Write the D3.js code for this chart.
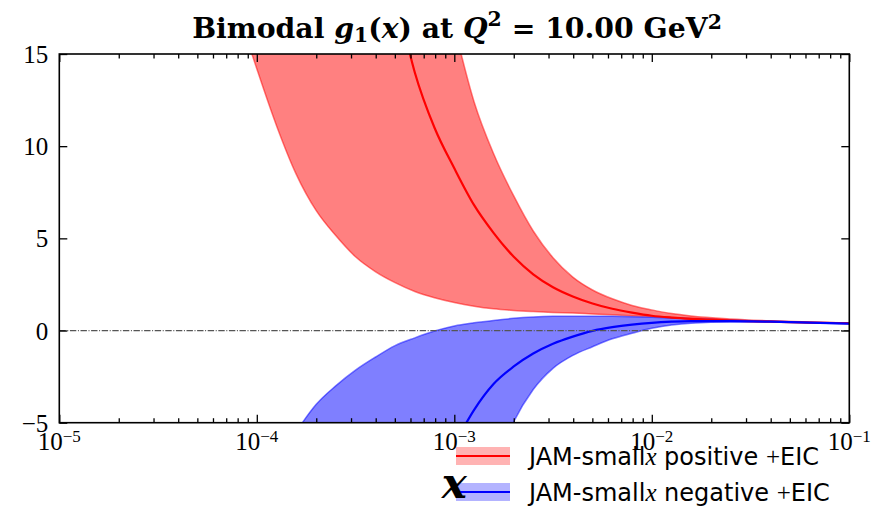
<!DOCTYPE html>
<html><head><meta charset="utf-8">
<script src="https://cdn.jsdelivr.net/npm/d3@7"></script>
<style>body{margin:0;background:#fff}</style>
</head><body>
<svg id="c" width="888" height="507"></svg>
<script>
// ---- data ----
const xGrid = [7.94e-5, 1.00e-4, 1.26e-4, 1.58e-4, 2.00e-4, 2.51e-4, 3.16e-4, 3.98e-4, 5.01e-4, 6.31e-4,
               7.94e-4, 1.00e-3, 1.26e-3, 1.58e-3, 2.00e-3, 2.51e-3, 3.16e-3, 3.98e-3, 5.01e-3, 6.31e-3,
               7.94e-3, 1.00e-2, 1.26e-2, 1.58e-2, 2.51e-2, 3.98e-2, 6.31e-2, 1.00e-1];
const redLo  = [17.5, 14.2, 11.1, 8.5, 6.5, 5.15, 4.0, 3.2, 2.6, 2.12,
                1.78, 1.52, 1.32, 1.18, 1.09, 1.03, 0.98, 0.95, 0.9, 0.85,
                0.8, 0.76, 0.71, 0.66, 0.57, 0.5, 0.44, 0.39];
const redMid = [null, null, null, null, null, null, null, null, 18.5, 14.0,
                11.0, 8.8, 6.8, 5.3, 4.0, 3.05, 2.35, 1.85, 1.47, 1.18,
                0.97, 0.80, 0.70, 0.63, 0.54, 0.48, 0.43, 0.40];
const redHi  = [null, null, null, null, null, null, null, null, null, null,
                null, 16.5, 12.4, 9.6, 7.3, 5.4, 3.95, 2.9, 2.2, 1.72,
                1.36, 1.12, 0.92, 0.79, 0.63, 0.53, 0.46, 0.41];
const blueHi = [null, null, null, -5.5, -4.0, -3.0, -2.15, -1.45, -0.82, -0.4,
                -0.03, 0.25, 0.42, 0.55, 0.66, 0.73, 0.77, 0.78, 0.78, 0.77,
                0.75, 0.72, 0.68, 0.64, 0.56, 0.50, 0.44, 0.39];
const blueMid = [null, null, null, null, null, null, null, null, null, null,
                 null, -6.2, -4.3, -2.9, -1.95, -1.25, -0.72, -0.33, -0.02, 0.18,
                 0.32, 0.42, 0.48, 0.51, 0.51, 0.48, 0.43, 0.37];
const blueLo = [null, null, null, null, null, null, null, null, null, null,
                null, null, null, -7.6, -4.95, -3.2, -2.05, -1.35, -0.88, -0.45,
                -0.15, 0.12, 0.30, 0.40, 0.46, 0.46, 0.42, 0.36];
const yTicks = [-5, 0, 5, 10, 15];
const yTickLabels = ["−5", "0", "5", "10", "15"];
const xMajor = [1e-5, 1e-4, 1e-3, 1e-2, 1e-1];
const xTickExp = ["−5", "−4", "−3", "−2", "−1"];
const legendNames = ["positive", "negative"];

// ---- layout ----
const L = 59.3, R = 849.3, T = 54, B = 422.7;
const svg = d3.select("#c");
const x = d3.scaleLog().domain([1e-5, 1e-1]).range([L, R]);
const y = d3.scaleLinear().domain([-5, 15]).range([B, T]);

svg.append("defs").append("clipPath").attr("id", "clip")
  .append("rect").attr("x", L).attr("y", T).attr("width", R - L).attr("height", B - T);

const pts = vals => xGrid.map((xv, i) => [xv, vals[i]]).filter(d => d[1] != null);
const line = d3.line().x(d => x(d[0])).y(d => y(d[1])).curve(d3.curveMonotoneX);
function bandPath(hi, lo) {
  const top = line(pts(hi));
  const bot = line(pts(lo).reverse());
  return top + "L" + bot.substring(1) + "Z";
}

const g = svg.append("g").attr("clip-path", "url(#clip)");
g.append("path").attr("d", bandPath(redLo, redHi))
  .attr("fill", "rgb(255,128,128)").attr("stroke", "rgba(255,0,0,0.5)").attr("stroke-width", 1.5);
g.append("path").attr("d", bandPath(blueHi, blueLo))
  .attr("fill", "rgba(0,0,255,0.5)").attr("stroke", "rgba(0,0,255,0.5)").attr("stroke-width", 1.5);
g.append("path").attr("d", line(pts(redMid))).attr("fill", "none").attr("stroke", "#ff0000").attr("stroke-width", 2.2);
g.append("path").attr("d", line(pts(blueMid))).attr("fill", "none").attr("stroke", "#0000ff").attr("stroke-width", 2.2);
g.append("line").attr("x1", L).attr("x2", R).attr("y1", y(0)).attr("y2", y(0))
  .attr("stroke", "#555").attr("stroke-width", 1.2).attr("stroke-dasharray", "6.4,1.6,1,1.6");

// ---- axes (inward ticks on all sides) ----
const minor = x.ticks().filter(v => !xMajor.some(m => Math.abs(m - v) / m < 1e-6));
function styleAxis(sel) {
  sel.select(".domain").remove();
  sel.selectAll(".tick line").attr("stroke", "#000").attr("stroke-width", 1.3);
}
svg.append("g").attr("transform", `translate(0,${B})`)
  .call(d3.axisBottom(x).tickValues(xMajor).tickSize(-8).tickFormat("")).call(styleAxis);
svg.append("g").attr("transform", `translate(0,${B})`)
  .call(d3.axisBottom(x).tickValues(minor).tickSize(-4.5).tickFormat("")).call(styleAxis);
svg.append("g").attr("transform", `translate(0,${T})`)
  .call(d3.axisTop(x).tickValues(xMajor).tickSize(-8).tickFormat("")).call(styleAxis);
svg.append("g").attr("transform", `translate(0,${T})`)
  .call(d3.axisTop(x).tickValues(minor).tickSize(-4.5).tickFormat("")).call(styleAxis);
svg.append("g").attr("transform", `translate(${L},0)`)
  .call(d3.axisLeft(y).tickValues(yTicks).tickSize(-8).tickFormat("")).call(styleAxis);
svg.append("g").attr("transform", `translate(${R},0)`)
  .call(d3.axisRight(y).tickValues(yTicks).tickSize(-8).tickFormat("")).call(styleAxis);

svg.append("rect").attr("x", L).attr("y", T).attr("width", R - L).attr("height", B - T)
  .attr("fill", "none").attr("stroke", "#000").attr("stroke-width", 1.6);

const serif = "'Liberation Serif', 'Times New Roman', serif";
// y tick labels
yTicks.forEach((v, i) => {
  svg.append("text").attr("x", L - 11).attr("y", y(v) + 9)
    .attr("text-anchor", "end").attr("font-family", serif).attr("font-size", 25)
    .text(yTickLabels[i]);
});
// x tick labels
xMajor.forEach((v, i) => {
  const t = svg.append("text").attr("x", x(v)).attr("y", B + 27.5)
    .attr("text-anchor", "middle").attr("font-family", serif).attr("font-size", 25);
  t.append("tspan").text("10");
  t.append("tspan").attr("dy", -8).attr("font-size", 17).text(xTickExp[i]);
});

// title
const title = svg.append("text").attr("x", 457).attr("y", 38).attr("text-anchor", "middle")
  .attr("font-family", "'DejaVu Serif', serif").attr("font-weight", "bold").attr("font-size", 23);
title.append("tspan").text("Bimodal ");
title.append("tspan").attr("font-style", "italic").text("g");
title.append("tspan").attr("font-size", "0.72em").attr("dy", "0.22em").text("1");
title.append("tspan").attr("dy", "-0.16em").text("(");
title.append("tspan").attr("font-style", "italic").text("x");
title.append("tspan").text(") at ");
title.append("tspan").attr("font-style", "italic").text("Q");
title.append("tspan").attr("font-size", "0.72em").attr("dy", "-0.6em").text("2");
title.append("tspan").attr("dy", "0.43em").text(" = 10.00 GeV");
title.append("tspan").attr("font-size", "0.72em").attr("dy", "-0.43em").text("2");
const tw = title.node().getComputedTextLength();
if (tw > 0) title.attr("font-size", 23 * 530 / tw);

// legend
const legColors = [["rgb(255,179,179)", "#ff0000"], ["rgb(179,179,255)", "#0000ff"]];
legendNames.forEach((name, i) => {
  const cy = 456 + i * 36;
  svg.append("rect").attr("x", 456).attr("y", cy - 9).attr("width", 54).attr("height", 18).attr("fill", legColors[i][0]);
  svg.append("line").attr("x1", 456).attr("x2", 510).attr("y1", cy).attr("y2", cy)
    .attr("stroke", legColors[i][1]).attr("stroke-width", 2.2);
  const t = svg.append("text").attr("x", 529).attr("y", cy + 9)
    .attr("font-family", "'DejaVu Sans', sans-serif").attr("font-size", 24);
  t.append("tspan").text("JAM-small");
  t.append("tspan").attr("font-family", serif).attr("font-style", "italic").attr("font-size", 25).text("x");
  t.append("tspan").text(" " + name + " ");
  t.append("tspan").attr("font-family", serif).attr("font-size", 25).text("+");
  t.append("tspan").text("EIC");
});

// x axis label (big bold italic, partly over the legend as in the reference)
svg.append("text").attr("x", (L + R) / 2).attr("y", 498).attr("text-anchor", "middle")
  .attr("font-family", "'DejaVu Serif', serif").attr("font-weight", "bold").attr("font-style", "italic")
  .attr("font-size", 42).text("x");
</script>
</body></html>
